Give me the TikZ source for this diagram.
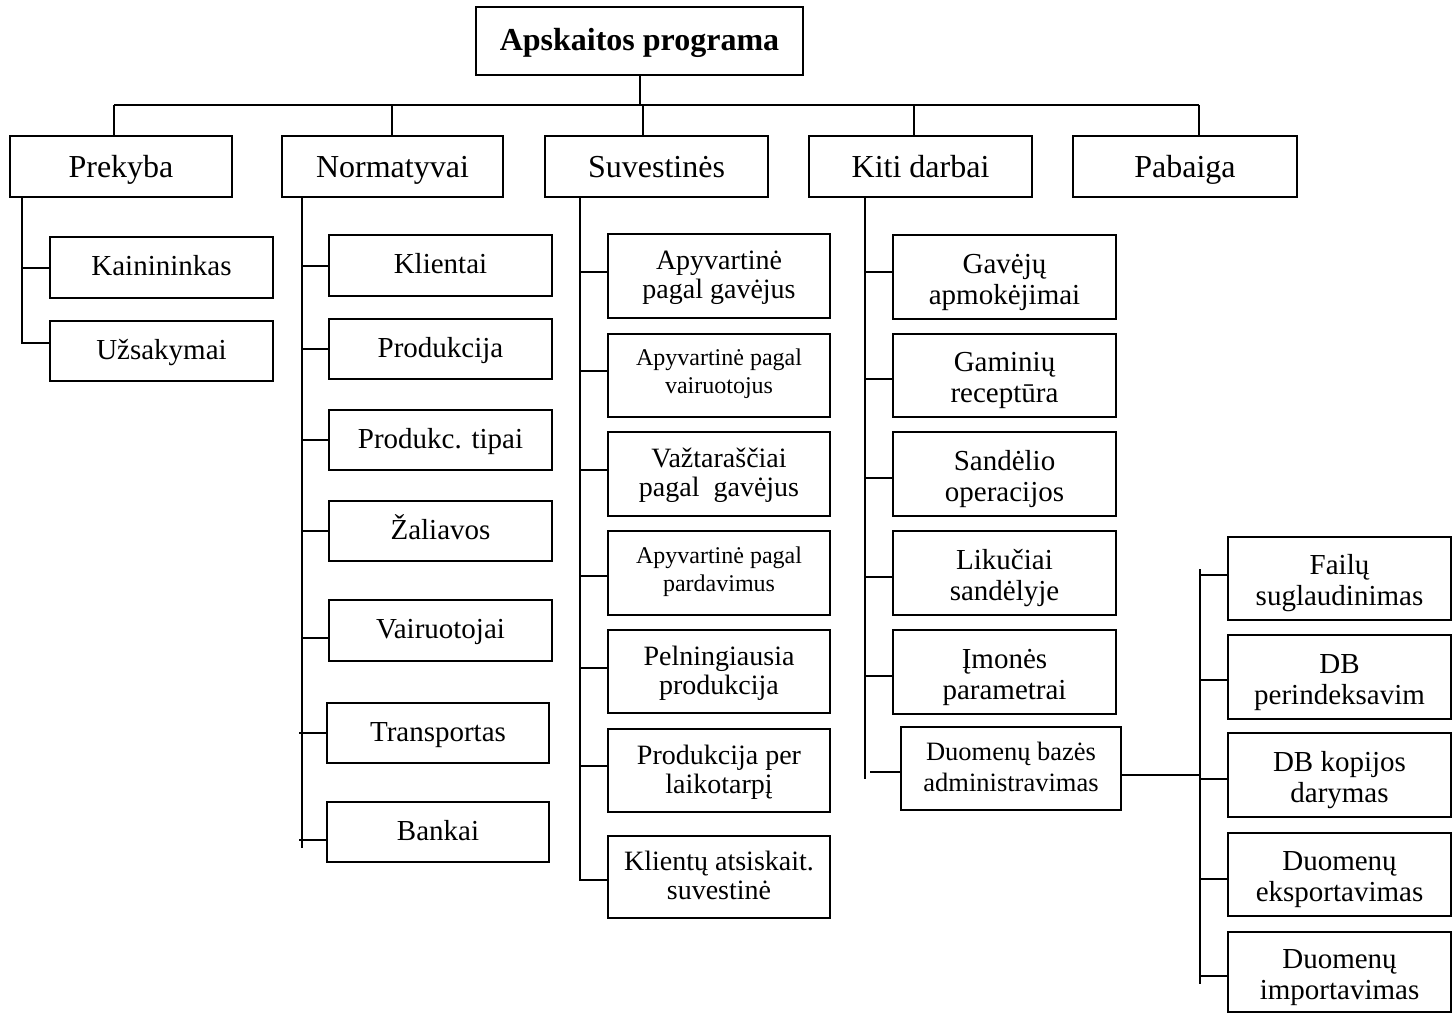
\documentclass[tikz,border=0pt]{standalone}
\usepackage{fontspec}
\setmainfont{Liberation Serif}
\newcommand\linkto[4]{\path ([yshift=#3]#2.west) coordinate (tmpc); \draw[wire] (tmpc -| #1) ++(#4,0) -- (tmpc);}
\begin{document}
\begin{tikzpicture}[x=1pt,y=-1pt,
  wire/.style={line width=2pt},
  sh/.style 2 args={execute at begin node={\rule{0pt}{#1}}, execute at end node={\rule[-#2]{0pt}{#2}}},
  box/.style={draw, line width=2pt, inner sep=0pt, align=center, font=\fontsize{29}{31}\selectfont, sh={25.7pt}{9.3pt}},
  twobox/.style={box, sh={63.3pt}{9.3pt}},
  headbox/.style={box, font=\fontsize{32}{36}\selectfont, minimum height=61pt, sh={32.4pt}{10.8pt}},
  midbox/.style={box, font=\fontsize{28}{29}\selectfont, sh={54.7pt}{8.7pt}},
  smallbox/.style={box, font=\fontsize{24}{28}\selectfont, sh={50pt}{13.2pt}}]
\useasboundingbox (0,0) rectangle (1455,1014);

% top
\node[box, minimum width=327pt, minimum height=68pt, font=\bfseries\fontsize{32}{36}\selectfont, sh={29.2pt}{10.8pt}] (top) at (639.5,41) {Apskaitos programa};

% level 1
\node[headbox, minimum width=222pt] (prek) at (121,166.5) {Prekyba};
\node[headbox, minimum width=221pt] (norm) at (392.5,166.5) {Normatyvai};
\node[headbox, minimum width=223pt] (suv) at (656.5,166.5) {Suvestinės};
\node[headbox, minimum width=223pt] (kiti) at (920.5,166.5) {Kiti darbai};
\node[headbox, minimum width=224pt] (pab) at (1185,166.5) {Pabaiga};

% Prekyba children
\node[box, minimum width=223pt, minimum height=61pt] (kain) at (161.5,267.5) {Kainininkas};
\node[box, minimum width=223pt, minimum height=60pt] (uzs) at (161.5,351) {Užsakymai};

% Normatyvai children
\node[box, minimum width=223pt, minimum height=61pt] (klien) at (440.5,265.5) {Klientai};
\node[box, minimum width=223pt, minimum height=60pt] (prod) at (440.5,349) {Produkcija};
\node[box, minimum width=223pt, minimum height=60pt] (ptip) at (440.5,440) {Produkc. tipai};
\node[box, minimum width=223pt, minimum height=60pt] (zal) at (440.5,531) {Žaliavos};
\node[box, minimum width=223pt, minimum height=61pt] (vair) at (440.5,630.5) {Vairuotojai};
\node[box, minimum width=222pt, minimum height=60pt] (trans) at (438,733) {Transportas};
\node[box, minimum width=222pt, minimum height=60pt] (bank) at (438,832) {Bankai};

% Suvestines children
\node[midbox, minimum width=222pt, minimum height=84pt] (s1) at (719,276) {Apyvartinė\\pagal gavėjus};
\node[smallbox, minimum width=222pt, minimum height=83pt] (s2) at (719,375.5) {Apyvartinė pagal\\vairuotojus};
\node[midbox, minimum width=222pt, minimum height=84pt] (s3) at (719,474) {Važtaraščiai\\pagal\ \ gavėjus};
\node[smallbox, minimum width=222pt, minimum height=84pt] (s4) at (719,573) {Apyvartinė pagal\\pardavimus};
\node[midbox, minimum width=222pt, minimum height=83pt] (s5) at (719,671.5) {Pelningiausia\\produkcija};
\node[midbox, minimum width=222pt, minimum height=83pt] (s6) at (719,770.5) {Produkcija per\\laikotarpį};
\node[midbox, minimum width=222pt, minimum height=82pt, sh={50.7pt}{8.7pt}] (s7) at (719,877) {Klientų atsiskait.\\suvestinė};

% Kiti darbai children
\node[twobox, minimum width=223pt, minimum height=84pt] (k1) at (1004.5,277) {Gavėjų\\apmokėjimai};
\node[twobox, minimum width=223pt, minimum height=83pt] (k2) at (1004.5,375.5) {Gaminių\\receptūra};
\node[twobox, minimum width=223pt, minimum height=84pt] (k3) at (1004.5,474) {Sandėlio\\operacijos};
\node[twobox, minimum width=223pt, minimum height=84pt] (k4) at (1004.5,573) {Likučiai\\sandėlyje};
\node[twobox, minimum width=223pt, minimum height=84pt] (k5) at (1004.5,672) {Įmonės\\parametrai};
\node[box, minimum width=220pt, minimum height=83pt, font=\fontsize{26.5}{31}\selectfont, sh={55.7pt}{9.3pt}] (dba) at (1011,768.5) {Duomenų bazės\\administravimas};

% DB administration children
\node[twobox, minimum width=223pt, minimum height=83pt] (r1) at (1339.5,578.5) {Failų\\suglaudinimas};
\node[twobox, minimum width=223pt, minimum height=84pt] (r2) at (1339.5,677) {DB\\perindeksavim};
\node[twobox, minimum width=223pt, minimum height=84pt] (r3) at (1339.5,775) {DB kopijos\\darymas};
\node[twobox, minimum width=223pt, minimum height=83pt] (r4) at (1339.5,874.5) {Duomenų\\eksportavimas};
\node[twobox, minimum width=223pt, minimum height=80pt] (r5) at (1339.5,972) {Duomenų\\importavimas};

% top bus
\coordinate (b1) at (114,105);
\coordinate (b2) at (392,105);
\coordinate (b3) at (643,105);
\coordinate (b4) at (914,105);
\coordinate (b5) at (1199,105);
\draw[wire] (top.south) -- (top.south |- b1);
\draw[wire] (b1) -- (b5);
\draw[wire] (b1) -- (b1 |- prek.north);
\draw[wire] (b2) -- (b2 |- norm.north);
\draw[wire] (b3) -- (b3 |- suv.north);
\draw[wire] (b4) -- (b4 |- kiti.north);
\draw[wire] (b5) -- (b5 |- pab.north);

% trunks
\coordinate (pT) at (22,197);
\coordinate (nT) at (302,197);
\coordinate (sT) at (580,197);
\coordinate (kT) at (865,197);
\coordinate (rT) at (1200,569);
\draw[wire] (prek.south -| pT) -- ++(0,146);
\draw[wire] (norm.south -| nT) -- ++(0,650);
\draw[wire] (suv.south -| sT) -- ++(0,683);
\draw[wire] (kiti.south -| kT) -- ++(0,581);
\draw[wire] (rT) -- ++(0,415);

% Prekyba links
\linkto{pT}{kain}{0pt}{0}
\linkto{pT}{uzs}{8pt}{0}
% Normatyvai links
\linkto{nT}{klien}{0pt}{0}
\linkto{nT}{prod}{0pt}{0}
\linkto{nT}{ptip}{0pt}{0}
\linkto{nT}{zal}{0pt}{0}
\linkto{nT}{vair}{-7pt}{0}
\linkto{nT}{trans}{0pt}{-3}
\linkto{nT}{bank}{-8pt}{-3}
% Suvestines links
\linkto{sT}{s1}{4pt}{0}
\linkto{sT}{s2}{5pt}{0}
\linkto{sT}{s3}{4pt}{0}
\linkto{sT}{s4}{-3pt}{0}
\linkto{sT}{s5}{4pt}{0}
\linkto{sT}{s6}{5pt}{0}
\linkto{sT}{s7}{-2.5pt}{0}
% Kiti darbai links
\linkto{kT}{k1}{5pt}{0}
\linkto{kT}{k2}{-3pt}{0}
\linkto{kT}{k3}{-4pt}{0}
\linkto{kT}{k4}{-4pt}{0}
\linkto{kT}{k5}{-4pt}{0}
\linkto{kT}{dba}{-3pt}{5}
% DB admin links
\path ([yshift=-6.5pt]dba.east) coordinate (dbo);
\draw[wire] (dbo) -- (dbo -| rT);
\linkto{rT}{r1}{4pt}{0}
\linkto{rT}{r2}{-3pt}{0}
\linkto{rT}{r3}{-4pt}{0}
\linkto{rT}{r4}{-4pt}{0}
\linkto{rT}{r5}{-4pt}{0}
\end{tikzpicture}
\end{document}
